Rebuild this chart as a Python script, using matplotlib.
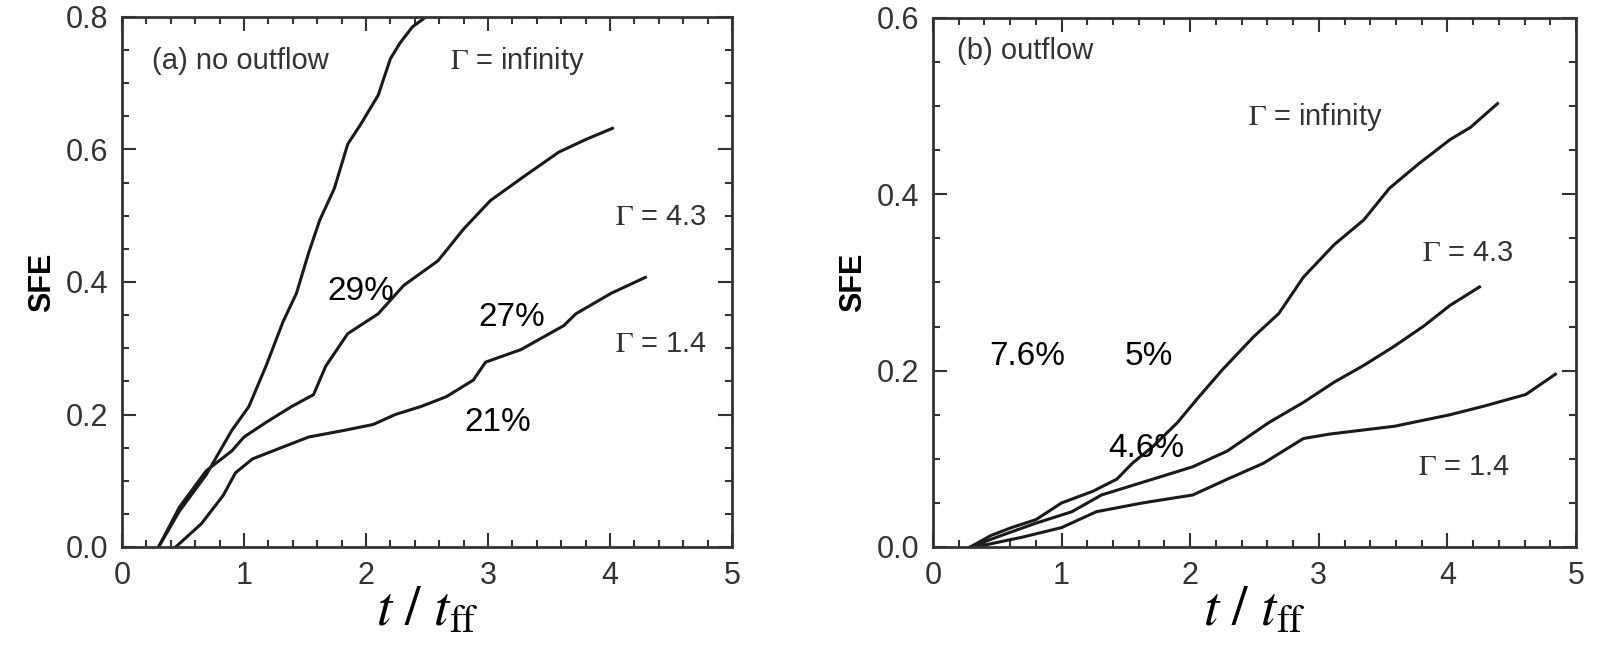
import matplotlib
matplotlib.use('Agg')
import matplotlib.pyplot as plt
from matplotlib.ticker import MultipleLocator, FormatStrFormatter

plt.rcParams['font.family'] = ['Liberation Sans', 'DejaVu Sans']
plt.rcParams['mathtext.fontset'] = 'stix'

# (a) no outflow
a_inf_t = [0.30, 0.47, 0.69, 0.90, 1.04, 1.18, 1.32, 1.43, 1.53, 1.62, 1.74, 1.85, 1.96, 2.10, 2.20, 2.28, 2.38, 2.49]
a_inf_s = [0.0, 0.054, 0.109, 0.176, 0.212, 0.273, 0.340, 0.383, 0.444, 0.493, 0.541, 0.608, 0.639, 0.682, 0.737, 0.761, 0.785, 0.800]
a_43_t = [0.30, 0.47, 0.69, 0.90, 1.00, 1.18, 1.39, 1.57, 1.67, 1.85, 2.10, 2.31, 2.59, 2.80, 3.02, 3.30, 3.58, 3.80, 4.02]
a_43_s = [0.0, 0.060, 0.115, 0.145, 0.166, 0.188, 0.212, 0.230, 0.273, 0.322, 0.352, 0.395, 0.432, 0.480, 0.523, 0.560, 0.596, 0.615, 0.632]
a_14_t = [0.44, 0.65, 0.83, 0.93, 1.07, 1.32, 1.53, 1.82, 2.06, 2.24, 2.45, 2.66, 2.88, 2.98, 3.27, 3.62, 3.72, 4.01, 4.29]
a_14_s = [0.0, 0.035, 0.078, 0.112, 0.133, 0.151, 0.166, 0.176, 0.185, 0.200, 0.212, 0.227, 0.252, 0.279, 0.298, 0.334, 0.352, 0.383, 0.407]

# (b) outflow
b_inf_t = [0.29, 0.45, 0.61, 0.80, 1.00, 1.24, 1.43, 1.55, 1.71, 1.90, 2.06, 2.25, 2.49, 2.69, 2.88, 3.12, 3.35, 3.55, 3.78, 4.02, 4.18, 4.39]
b_inf_s = [0.0, 0.013, 0.022, 0.031, 0.050, 0.063, 0.077, 0.095, 0.114, 0.141, 0.169, 0.201, 0.238, 0.265, 0.306, 0.343, 0.371, 0.407, 0.435, 0.462, 0.476, 0.503]
b_43_t = [0.29, 0.53, 0.80, 1.08, 1.31, 1.71, 2.02, 2.29, 2.61, 2.88, 3.12, 3.35, 3.59, 3.82, 4.02, 4.25]
b_43_s = [0.0, 0.013, 0.027, 0.040, 0.059, 0.077, 0.091, 0.109, 0.141, 0.164, 0.187, 0.206, 0.228, 0.251, 0.274, 0.295]
b_14_t = [0.33, 0.69, 1.00, 1.27, 1.63, 2.02, 2.29, 2.57, 2.88, 3.08, 3.59, 4.02, 4.29, 4.61, 4.84]
b_14_s = [0.0, 0.011, 0.022, 0.040, 0.050, 0.059, 0.077, 0.095, 0.123, 0.128, 0.137, 0.150, 0.160, 0.173, 0.196]

LINE = '#1a1a1a'
GREY = '#333333'

fig = plt.figure(figsize=(15.97, 6.45), dpi=100)
ax1 = fig.add_axes([122 / 1597, 98 / 645, 610 / 1597, 530 / 645])
ax2 = fig.add_axes([933 / 1597, 98 / 645, 643 / 1597, 529 / 645])


def style(ax, ymax):
    ax.set_xlim(0, 5)
    ax.set_ylim(0, ymax)
    ax.xaxis.set_major_locator(MultipleLocator(1))
    ax.xaxis.set_minor_locator(MultipleLocator(0.2))
    ax.yaxis.set_major_locator(MultipleLocator(0.2))
    ax.yaxis.set_minor_locator(MultipleLocator(0.05))
    ax.yaxis.set_major_formatter(FormatStrFormatter('%.1f'))
    ax.tick_params(which='both', direction='in', top=True, right=True, width=1.5, colors=GREY,
                   labelsize=22, labelcolor=GREY)
    ax.tick_params(which='major', length=10, pad=10)
    ax.tick_params(which='minor', length=5)
    for sp in ax.spines.values():
        sp.set_linewidth(2)
        sp.set_color(GREY)
    ax.set_ylabel('SFE', fontsize=22, fontweight='bold', labelpad=6)
    ax.set_xlabel(r'$t\ /\ t_{\rm ff}$', fontsize=40, labelpad=-4)


style(ax1, 0.8)
style(ax2, 0.6)

for t, s in [(a_inf_t, a_inf_s), (a_43_t, a_43_s), (a_14_t, a_14_s)]:
    ax1.plot(t, s, color=LINE, lw=2.2)
for t, s in [(b_inf_t, b_inf_s), (b_43_t, b_43_s), (b_14_t, b_14_s)]:
    ax2.plot(t, s, color=LINE, lw=2.2)

ax1.text(0.25, 0.734, '(a) no outflow', fontsize=21, color=GREY, va='center')
ax1.text(2.69, 0.734, r'$\Gamma$ = infinity', fontsize=21, color=GREY, va='center')
ax1.text(4.04, 0.498, r'$\Gamma$ = 4.3', fontsize=21, color=GREY, va='center')
ax1.text(4.04, 0.306, r'$\Gamma$ = 1.4', fontsize=21, color=GREY, va='center')
ax1.text(1.68, 0.385, '29%', fontsize=24, color='black', va='center')
ax1.text(2.92, 0.346, '27%', fontsize=24, color='black', va='center')
ax1.text(2.81, 0.188, '21%', fontsize=24, color='black', va='center')

ax2.text(0.19, 0.563, '(b) outflow', fontsize=21, color=GREY, va='center')
ax2.text(2.45, 0.488, r'$\Gamma$ = infinity', fontsize=21, color=GREY, va='center')
ax2.text(3.80, 0.334, r'$\Gamma$ = 4.3', fontsize=21, color=GREY, va='center')
ax2.text(3.77, 0.091, r'$\Gamma$ = 1.4', fontsize=21, color=GREY, va='center')
ax2.text(0.44, 0.216, '7.6%', fontsize=24, color='black', va='center')
ax2.text(1.49, 0.216, '5%', fontsize=24, color='black', va='center')
ax2.text(1.36, 0.112, '4.6%', fontsize=24, color='black', va='center')

fig.savefig('out.png', dpi=100)
